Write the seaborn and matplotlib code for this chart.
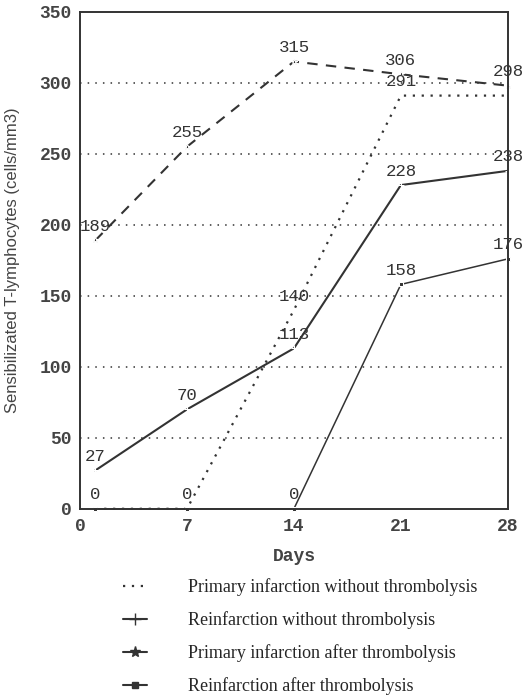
import pandas as pd
import matplotlib
matplotlib.use('Agg')
import matplotlib.pyplot as plt
from matplotlib.lines import Line2D
import seaborn as sns

# data
days = [1, 7, 14, 21, 28]
primary_without = [0, 0, 140, 291, 291]
reinf_without = [27, 70, 113, 228, 238]
primary_after = [189, 255, 315, 306, 298]
reinf_after = [0, 0, 0, 158, 176]

series_names = [
    'Primary infarction without thrombolysis',
    'Reinfarction without thrombolysis',
    'Primary infarction after thrombolysis',
    'Reinfarction after thrombolysis',
]

# value labels as printed on the chart (x, y, text)
label_points = [
    (1, 189, '189'), (7, 255, '255'), (14, 315, '315'), (21, 306, '306'), (28, 298, '298'),
    (1, 27, '27'), (7, 70, '70'), (14, 113, '113'), (21, 228, '228'), (28, 238, '238'),
    (14, 140, '140'), (21, 291, '291'),
    (21, 158, '158'), (28, 176, '176'),
    (1, 0, '0'), (7, 0, '0'), (14, 0, '0'),
]

ink = '#333333'
sns.set_style('white')

fig = plt.figure(figsize=(5.23, 6.96), dpi=100)
ax = fig.add_axes([0.153, 0.269, 0.818, 0.714])

df = pd.DataFrame({
    'day': days * 4,
    'value': primary_without + reinf_without + primary_after + reinf_after,
    'series': [n for n in series_names for _ in days],
})

styles = {
    series_names[0]: dict(linestyle=(0, (1, 3)), linewidth=1.6, marker=None),
    series_names[1]: dict(linestyle='-', linewidth=1.5, marker='+', markersize=5),
    series_names[2]: dict(linestyle=(0, (5, 4)), linewidth=1.5, marker='*', markersize=4),
    series_names[3]: dict(linestyle='-', linewidth=1.1, marker='s', markersize=2.5),
}

for name in series_names:
    sub = df[df['series'] == name]
    sns.lineplot(x='day', y='value', data=sub, ax=ax, color=ink, clip_on=False, **styles[name])

for x, y, t in label_points:
    ax.annotate(t, (x, y), xytext=(0, 10), textcoords='offset points',
                ha='center', va='center', fontsize=12.5, family='Liberation Mono',
                color=ink, annotation_clip=False)

ax.set_xlim(0, 28)
ax.set_ylim(0, 350)
ax.set_xticks([0, 7, 14, 21, 28])
ax.set_yticks([0, 50, 100, 150, 200, 250, 300, 350])
for y in [50, 100, 150, 200, 250, 300]:
    ax.axhline(y, color=ink, linestyle=(0, (1, 4)), linewidth=1.1)

for lab in ax.get_xticklabels() + ax.get_yticklabels():
    lab.set_family('Liberation Mono')
    lab.set_fontweight('bold')
    lab.set_fontsize(13)
    lab.set_color('#444444')
ax.tick_params(axis='both', length=0)
ax.tick_params(axis='y', pad=6)
ax.tick_params(axis='x', pad=7)

for s in ax.spines.values():
    s.set_color(ink)
    s.set_linewidth(1.4)

ax.set_xlabel('Days', family='Liberation Mono', fontweight='bold', fontsize=13,
              color='#444444', labelpad=9)
ax.set_ylabel('Sensibilizated T-lymphocytes (cells/mm3)', family='Liberation Sans',
              fontsize=12, color='#444444', labelpad=14)

handles = [
    Line2D([], [], color=ink, linestyle=(0, (1, 3)), linewidth=1.6),
    Line2D([], [], color=ink, linestyle='-', linewidth=1.5, marker='+', markersize=9),
    Line2D([], [], color=ink, linestyle='-', linewidth=1.5, marker='*', markersize=8),
    Line2D([], [], color=ink, linestyle='-', linewidth=1.5, marker='s', markersize=4),
]
fig.legend(handles, series_names, loc='upper left', bbox_to_anchor=(0.205, 0.1925),
           frameon=False, handlelength=1.3, handletextpad=2.3, labelspacing=0.84,
           prop={'family': 'Liberation Serif', 'size': 13})

fig.savefig('out.png', dpi=100, facecolor='white')
